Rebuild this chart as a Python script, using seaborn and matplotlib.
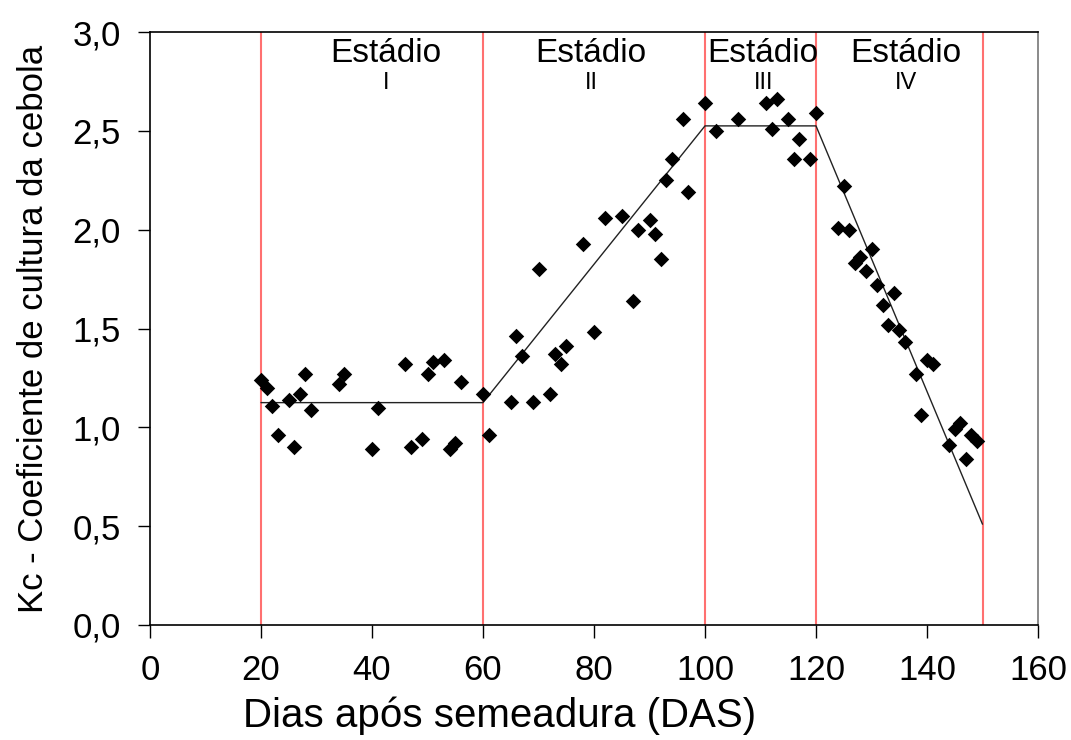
import matplotlib
matplotlib.use("Agg")
import matplotlib.pyplot as plt
from matplotlib.ticker import FuncFormatter, MultipleLocator
import numpy as np
import pandas as pd
import seaborn as sns

# Observed crop coefficient (Kc) of onion by days after sowing
das = [20, 21, 22, 23, 25, 26, 27, 28, 29, 34, 35, 40, 41, 46, 47, 49, 50, 51,
       53, 54, 55, 56, 60, 61, 65, 66, 67, 69, 70, 72, 73, 74, 75, 78, 80, 82,
       85, 87, 88, 90, 91, 92, 93, 94, 96, 97, 100, 102, 106, 111, 112, 113,
       115, 116, 117, 119, 120, 124, 125, 126, 127, 128, 129, 130, 131, 132,
       133, 134, 135, 136, 138, 139, 140, 141, 144, 145, 146, 147, 148, 149]
kc = [1.24, 1.20, 1.11, 0.96, 1.14, 0.90, 1.17, 1.27, 1.09, 1.22, 1.27, 0.89,
      1.10, 1.32, 0.90, 0.94, 1.27, 1.33, 1.34, 0.89, 0.92, 1.23, 1.17, 0.96,
      1.13, 1.46, 1.36, 1.13, 1.80, 1.17, 1.37, 1.32, 1.41, 1.93, 1.48, 2.06,
      2.07, 1.64, 2.00, 2.05, 1.98, 1.85, 2.25, 2.36, 2.56, 2.19, 2.64, 2.50,
      2.56, 2.64, 2.51, 2.66, 2.56, 2.36, 2.46, 2.36, 2.59, 2.01, 2.22, 2.00,
      1.83, 1.86, 1.79, 1.90, 1.72, 1.62, 1.52, 1.68, 1.49, 1.43, 1.27, 1.06,
      1.34, 1.32, 0.91, 0.99, 1.02, 0.84, 0.96, 0.93]

# Piecewise Kc curve and stage boundaries
curve_das = [20, 60, 100, 120, 150]
curve_kc = [1.125, 1.125, 2.525, 2.525, 0.51]
stage_bounds = [20, 60, 100, 120, 150]
stage_names = ["I", "II", "III", "IV"]
stage_label_x = [42.5, 79.5, 110.5, 136.2]

sns.set_style("ticks")
plt.rcParams["font.family"] = ["Liberation Sans", "DejaVu Sans"]
plt.rcParams["text.color"] = "black"
plt.rcParams["axes.labelcolor"] = "black"
plt.rcParams["xtick.color"] = "black"
plt.rcParams["ytick.color"] = "black"

fig = plt.figure(figsize=(10.71, 7.40), dpi=100)
ax = fig.add_axes([150 / 1071, 1 - 625 / 740, (1038 - 150) / 1071, (625 - 32) / 740])

for b in stage_bounds:
    ax.axvline(b, color="#ff7070", lw=1.5, zorder=1)

curve = pd.DataFrame({"das": curve_das, "kc": curve_kc})
sns.lineplot(data=curve, x="das", y="kc", ax=ax, color="#222222", lw=1.0,
             zorder=2, legend=False)

obs = pd.DataFrame({"das": das, "kc": kc})
sns.scatterplot(data=obs, x="das", y="kc", ax=ax, marker="D", color="black",
                s=62, edgecolor="black", linewidth=0, zorder=3, legend=False)

for xs, name in zip(stage_label_x, stage_names):
    ax.text(xs, 2.85, "Estádio", ha="center", va="baseline", fontsize=24)
    ax.text(xs, 2.71, name, ha="center", va="baseline", fontsize=17)

ax.set_xlim(0, 160)
ax.set_ylim(0, 3.0)
ax.xaxis.set_major_locator(MultipleLocator(20))
ax.yaxis.set_major_locator(MultipleLocator(0.5))
ax.yaxis.set_major_formatter(FuncFormatter(lambda v, p: f"{v:.1f}".replace(".", ",")))
ax.tick_params(axis="both", length=9, width=1, direction="out", color="black",
               labelsize=25)
ax.tick_params(axis="x", pad=12)
ax.tick_params(axis="y", pad=12)

ax.set_xlabel("Dias após semeadura (DAS)", fontsize=29)
ax.set_ylabel("Kc - Coeficiente de cultura da cebola", fontsize=25)
ax.xaxis.set_label_coords(0.394, -0.12)
ax.yaxis.set_label_coords(-0.113, 0.5)

for side in ["left", "bottom", "top"]:
    ax.spines[side].set_color("black")
    ax.spines[side].set_linewidth(1.2)
ax.spines["right"].set_color("#777777")
ax.spines["right"].set_linewidth(1.2)

fig.savefig("out.png", dpi=100)
